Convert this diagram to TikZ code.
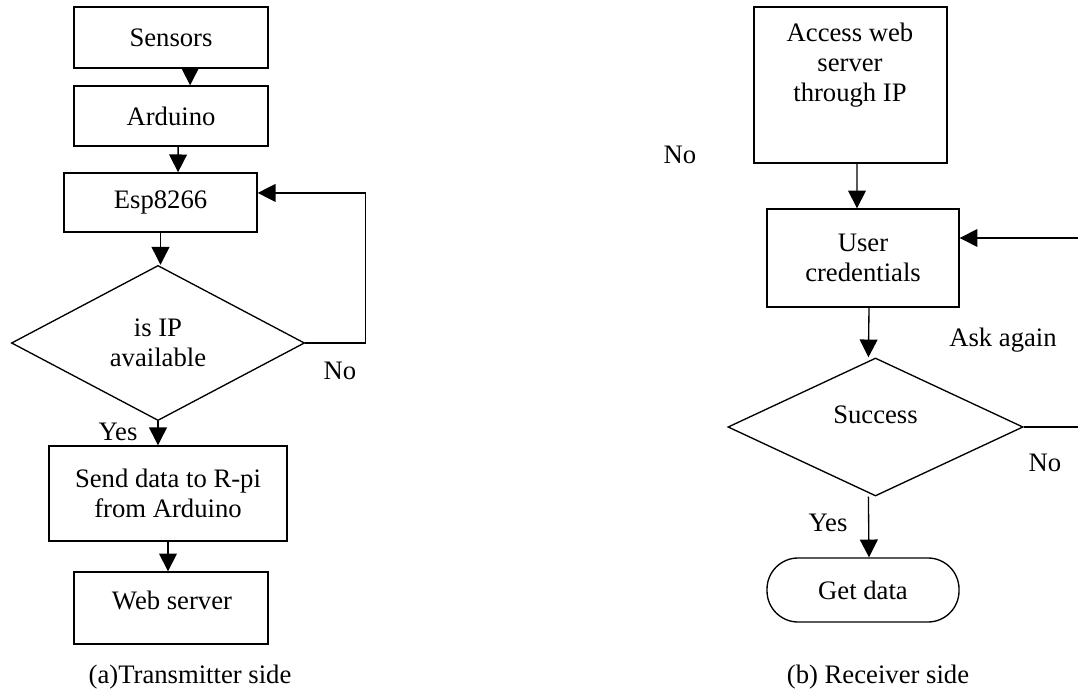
\documentclass[tikz,border=0pt]{standalone}
\usepackage{fontspec}
\setmainfont{Liberation Serif}
\usetikzlibrary{arrows.meta, shapes.geometric}
\tikzset{box/.style = {shape = rectangle, draw, line width = 0.6pt, align = center, inner sep = 0pt}}
\tikzset{decision/.style = {shape = diamond, draw, line width = 0.6pt, align = center, inner sep = 0pt}}
\tikzset{terminal/.style = {shape = rectangle, draw, line width = 0.6pt, rounded corners = 14pt}}
\tikzset{arrow/.style = {-{Triangle[width = 8pt, length = 8pt]}, line width = 0.6pt}}
\begin{document}
\begin{tikzpicture}[x = 0.45pt, y = -0.45pt, font = \fontsize{12}{13.5}\selectfont]
				\useasboundingbox (0, 0) rectangle (1078, 692);

				% (a) transmitter side
				\node[box, minimum width = 87.3pt, minimum height = 27.5pt] (sensors) at (171, 37.5) {Sensors};
				\node[box, minimum width = 87.3pt, minimum height = 27pt] (arduino) at (171, 116) {Arduino};
				\node[box, minimum width = 86.9pt, minimum height = 26.6pt] (esp) at (160.5, 202.5) {Esp8266};
				\node[decision, minimum width = 131.9pt, minimum height = 69.8pt] (ipcheck) at (158, 343) {is IP\\available};
				\node[box, minimum width = 107.1pt, minimum height = 42.8pt] (send) at (168, 493.5) {Send data to R-pi\\from Arduino};
				\node[box, minimum width = 87.3pt, minimum height = 32.4pt] (web) at (171, 608) {};
				\node (webtext) at (172, 600) {Web server};
				\node (ipno) at (340, 371) {No};
				\node (ipyes) at (118, 432) {Yes};
				\node (capa) at (190, 677) {(a)Transmitter side};

				\draw[arrow] ([xshift = 8.6pt]sensors.south) to ([xshift = 8.6pt]arduino.north);
				\draw[arrow] ([xshift = 3.2pt]arduino.south) to ([xshift = 7.9pt]esp.north);
				\draw[arrow] (esp.south) to (esp.south |- ipcheck.north);
				\draw[arrow] (ipcheck.south) to (ipcheck.south |- send.north);
				\draw[arrow] (send.south) to (send.south |- web.north);
				\draw[arrow] (ipcheck.east) -- ++(60, 0) |- ([yshift = 4.3pt]esp.east);

				% (b) receiver side
				\node[box, minimum width = 86.9pt, minimum height = 70.2pt] (access) at (850.5, 85) {};
				\node[align = center] (accesstext) at (850, 65) {Access web\\server\\through IP};
				\node[box, minimum width = 86.4pt, minimum height = 44.1pt] (user) at (863, 258) {User\\credentials};
				\node[decision, minimum width = 132.8pt, minimum height = 62.1pt, text depth = 11pt] (success) at (875.5, 427) {Success};
				\node[terminal, minimum width = 86.4pt, minimum height = 28.8pt] (getdata) at (863, 590) {Get data};
				\node (leftno) at (680, 155) {No};
				\node (askagain) at (1003, 340) {Ask again};
				\node (okno) at (1045, 463) {No};
				\node (okyes) at (828, 523) {Yes};
				\node (capb) at (878, 677) {(b) Receiver side};

				\draw[arrow] ([xshift = 2.9pt]access.south) to ([xshift = -2.7pt]user.north);
				\draw[arrow] ([xshift = 2.7pt]user.south) to ([xshift = -3.2pt]success.north);
				\draw[arrow] ([xshift = -3.2pt]success.south) to ([xshift = 2.7pt]getdata.north);
				\draw[arrow] (success.east) -- ++(70, 0) |- ([yshift = 9pt]user.east);
			\end{tikzpicture}
\end{document}
